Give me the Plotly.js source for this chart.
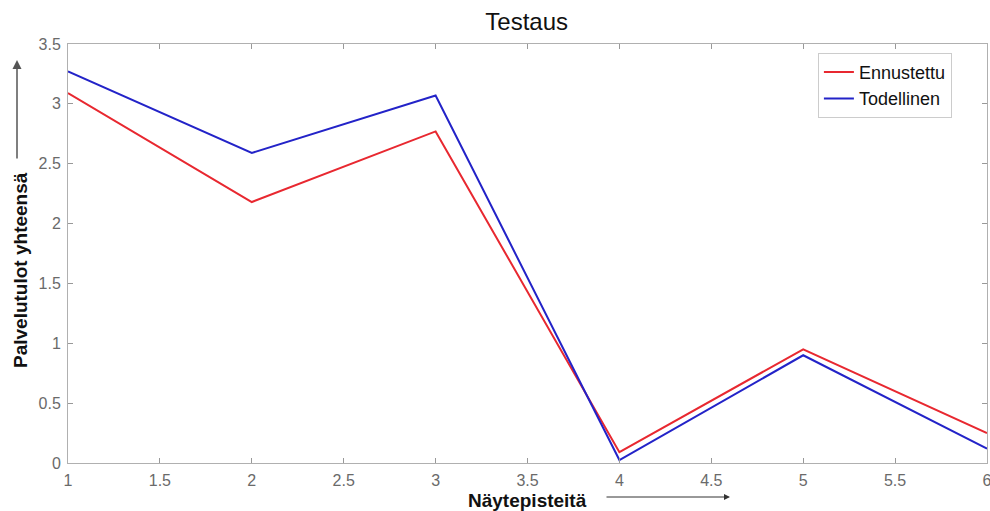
<!DOCTYPE html>
<html>
<head>
<meta charset="utf-8">
<script src="https://cdn.plot.ly/plotly-3.0.1.min.js"></script>
<style>html,body{margin:0;padding:0;background:#fff;}#chart{width:990px;height:511px;}</style>
</head>
<body>
<div id="chart"></div>
<script>
const samplePoints = [1, 2, 3, 4, 5, 6];
const predicted = [3.09, 2.18, 2.77, 0.09, 0.95, 0.25];
const actual = [3.27, 2.59, 3.07, 0.025, 0.90, 0.12];
const seriesNames = ['Ennustettu', 'Todellinen'];
const titleText = 'Testaus';
const xLabel = 'Näytepisteitä';
const yLabel = 'Palvelutulot yhteensä';

const font = 'Liberation Sans, Arial, sans-serif';
const traces = [
  {x: samplePoints, y: predicted, name: seriesNames[0], mode: 'lines', line: {color: 'rgb(232,40,48)', width: 2}},
  {x: samplePoints, y: actual, name: seriesNames[1], mode: 'lines', line: {color: 'rgb(35,35,200)', width: 2}}
];
const axisCommon = {
  showgrid: false, zeroline: false, showline: true, mirror: 'ticks',
  linecolor: '#b0b0b0', linewidth: 1, ticks: 'inside', ticklen: 5, tickcolor: '#999',
  tickfont: {family: font, size: 16, color: '#6a6a6a'}, dtick: 0.5, ticklabeloverflow: 'allow', ticklabelstandoff: 3
};
const layout = {
  width: 990, height: 511,
  margin: {l: 68, r: 3, t: 44, b: 48},
  paper_bgcolor: '#fff', plot_bgcolor: '#fff',
  title: {text: titleText, x: 0.532, xanchor: 'center', y: 0.958, yanchor: 'middle', font: {family: font, size: 24, color: '#111'}},
  xaxis: Object.assign({}, axisCommon, {range: [1, 6], tick0: 1}),
  yaxis: Object.assign({}, axisCommon, {range: [0, 3.5], tick0: 0}),
  showlegend: true,
  legend: {x: 0.816, y: 0.979, xanchor: 'left', yanchor: 'top', bgcolor: '#fff', bordercolor: '#ccc', borderwidth: 1,
    font: {family: font, size: 18, color: '#111'}, tracegroupgap: 0},
  annotations: [
    {text: '<b>' + xLabel + '</b>', xref: 'paper', yref: 'paper', x: (527 - 68) / 919, y: (463 - 500) / 419, xanchor: 'center', yanchor: 'middle', showarrow: false,
      font: {family: font, size: 19, color: '#111'}},
    {text: '<b>' + yLabel + '</b>', xref: 'paper', yref: 'paper', x: (20 - 68) / 919, y: (463 - 270) / 419, xanchor: 'center', yanchor: 'middle', textangle: -90, showarrow: false,
      font: {family: font, size: 19, color: '#111'}},
    {text: '', xref: 'paper', yref: 'paper', x: (730 - 68) / 919, y: (463 - 497) / 419, ax: -125, ay: 0, showarrow: true,
      arrowhead: 2, arrowsize: 1.2, arrowwidth: 1, arrowcolor: '#333'},
    {text: '', xref: 'paper', yref: 'paper', x: (17 - 68) / 919, y: (463 - 60) / 419, ax: 0, ay: 100, showarrow: true,
      arrowhead: 2, arrowsize: 1.2, arrowwidth: 1.5, arrowcolor: '#555'}
  ]
};
Plotly.newPlot('chart', traces, layout, {displayModeBar: false, staticPlot: true});
</script>
</body>
</html>
